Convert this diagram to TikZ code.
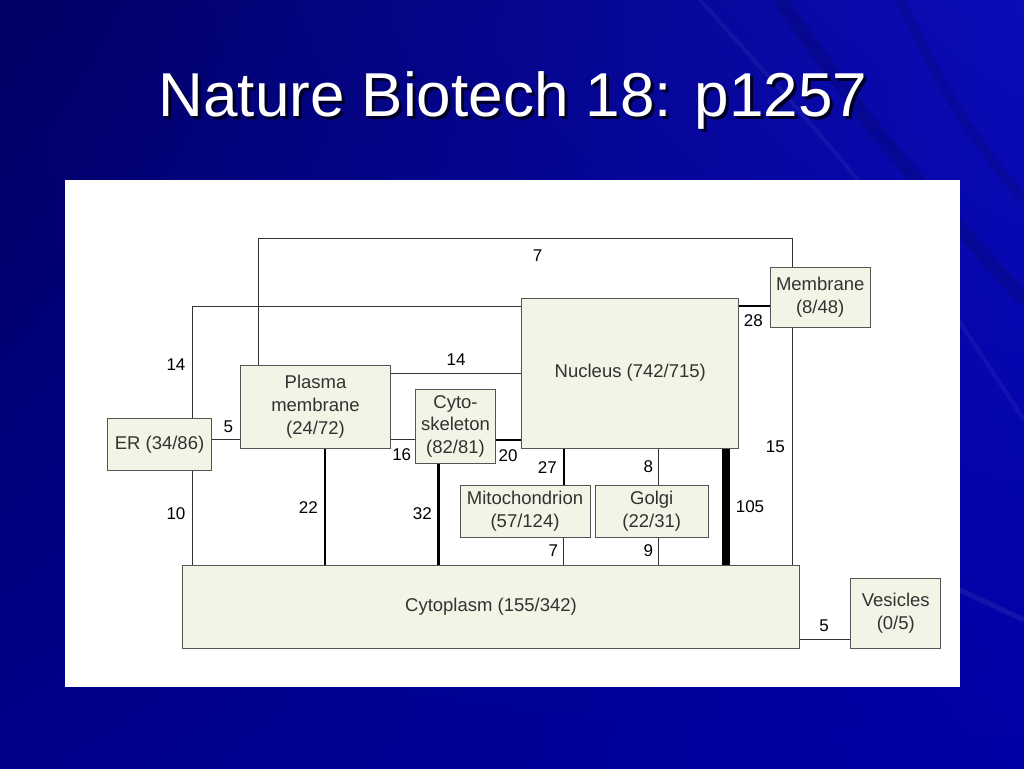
\documentclass[tikz,border=0pt]{standalone}
\usepackage{fontspec}
\setmainfont{Liberation Sans}
\usetikzlibrary{calc,positioning,shadings}

\definecolor{boxfill}{RGB}{244,244,230}
\definecolor{boxline}{RGB}{85,85,85}
\definecolor{txt}{RGB}{50,50,50}
\definecolor{bgdark}{RGB}{0,0,100}
\definecolor{bglight}{RGB}{12,12,184}
\definecolor{bgbot}{RGB}{0,0,138}
\definecolor{bgbotr}{RGB}{0,0,164}

\begin{document}
\begin{tikzpicture}[x=1pt,y=-1pt,
    comp/.style={draw=boxline,fill=boxfill,line width=1pt,align=center,text=txt,inner sep=0pt,font=\fontsize{18.5}{22.8}\selectfont},
    num/.style={text=black,inner sep=0pt,font=\fontsize{17}{20}\selectfont},
    link/.style={draw=txt,line width=1pt}]
              \useasboundingbox (0,0) rectangle (1024,768);
              \shade[upper left=bgdark,upper right=bglight,lower left=bgbot,lower right=bgbotr] (0,0) rectangle (1024,768);
              % streaks
              \draw[black,opacity=.12,line width=14pt] (780,0) .. controls (880,140) .. (1024,300);
              \draw[black,opacity=.10,line width=10pt] (900,0) .. controls (960,120) .. (1024,200);
              \draw[white,opacity=.05,line width=4pt] (700,0) .. controls (880,200) .. (1024,420);
              \draw[white,opacity=.07,line width=5pt] (960,590) -- (1024,620);
              \node[anchor=base,text=black!85!blue,font=\fontsize{62}{62}\selectfont] at (516,119) {Nature Biotech 18: p1257};
              \node[anchor=base,text=white,font=\fontsize{62}{62}\selectfont] (title) at (513,116) {Nature Biotech 18: p1257};
              \fill[white] (65,180) rectangle (960,687);

              \node[comp,minimum width=104.4pt,minimum height=52.4pt] (er) at (159.5,444.5) {ER (34/86)};
              \node[comp,minimum width=150.4pt,minimum height=83pt] (plasma) at (315.5,406.8) {Plasma\\membrane\\(24/72)};
              \node[comp,minimum width=80.4pt,minimum height=74pt] (cyto) at (455.5,426.3) {Cyto-\\skeleton\\(82/81)};
              \node[comp,minimum width=216.7pt,minimum height=150.3pt] (nucleus) at (630.3,373.2) {Nucleus (742/715)};
              \node[comp,minimum width=100.3pt,minimum height=59.6pt] (membrane) at (820.2,297.5) {Membrane\\(8/48)};
              \node[comp,minimum width=130pt,minimum height=52.3pt] (mito) at (525,511.2) {Mitochondrion\\(57/124)};
              \node[comp,minimum width=113.3pt,minimum height=52.3pt] (golgi) at (651.7,511.2) {Golgi\\(22/31)};
              \node[comp,minimum width=616.6pt,minimum height=82.6pt] (cytoplasm) at (491,607) {Cytoplasm (155/342)};
              \node[comp,minimum width=90.3pt,minimum height=70pt] (vesicles) at (895.8,613.3) {Vesicles\\(0/5)};

              \draw[link] ([xshift=-57.5pt]plasma.north) |- ([xshift=-28.2pt,yshift=28.7pt]membrane.north) -- ([xshift=-28.2pt]membrane.north);
              \draw[link] ([xshift=-28.2pt]membrane.south) -- ([xshift=-28.2pt]membrane.south |- cytoplasm.north);
              \draw[link] ([xshift=32.5pt]er.north) |- ([yshift=-9pt]nucleus.north west);
              \draw[link] ([xshift=32.5pt]er.south) -- ([xshift=32.5pt]er.south |- cytoplasm.north);
              \draw[link] ([yshift=5.2pt]er.east) -- ([yshift=5.2pt]er.east -| plasma.west);
              \draw[link] ([yshift=33.5pt]plasma.east) -- ([yshift=33.5pt]plasma.east -| nucleus.west);
              \draw[link] ([yshift=-32.5pt]plasma.east) -- ([yshift=-32.5pt]plasma.east -| cyto.west);
              \draw[link,draw=black,line width=2pt] ([yshift=-13.7pt]cyto.east) -- ([yshift=-13.7pt]cyto.east -| nucleus.west);
              \draw[link,draw=black,line width=2.5pt] ([xshift=9.5pt]plasma.south) -- ([xshift=9.5pt]plasma.south |- cytoplasm.north);
              \draw[link,draw=black,line width=3pt] ([xshift=-17.2pt]cyto.south) -- ([xshift=-17.2pt]cyto.south |- cytoplasm.north);
              \draw[link,draw=black,line width=2pt] ([xshift=-66.3pt]nucleus.south) -- ([xshift=-66.3pt]nucleus.south |- mito.north);
              \draw[link] ([xshift=27.7pt]nucleus.south) -- ([xshift=27.7pt]nucleus.south |- golgi.north);
              \draw[link,draw=black,line width=8pt] ([xshift=95.4pt]nucleus.south) -- ([xshift=95.4pt]nucleus.south |- cytoplasm.north);
              \draw[link] ([xshift=38.3pt]mito.south) -- ([xshift=38.3pt]mito.south |- cytoplasm.north);
              \draw[link] ([xshift=6.6pt]golgi.south) -- ([xshift=6.6pt]golgi.south |- cytoplasm.north);
              \draw[link,draw=black,line width=2pt] ([yshift=-8pt]nucleus.north east) -- ([yshift=-8pt]nucleus.north east -| membrane.west);
              \draw[link] ([yshift=9pt]cytoplasm.south east) -- ([yshift=9pt]cytoplasm.south east -| vesicles.west);

              \node[num] at (537.7,256) {7};
              \node[num] at (176,364.3) {14};
              \node[num] at (456,359.3) {14};
              \node[num] at (228.3,426.7) {5};
              \node[num] at (401.7,455) {16};
              \node[num] at (508,455.5) {20};
              \node[num] at (753.3,320.7) {28};
              \node[num] at (775.3,446.7) {15};
              \node[num] at (547.3,467.3) {27};
              \node[num] at (648.3,466.7) {8};
              \node[num] at (176,513.3) {10};
              \node[num] at (308.3,507.7) {22};
              \node[num] at (422.3,514) {32};
              \node[num] at (553.3,551) {7};
              \node[num] at (648.3,551) {9};
              \node[num] at (750,506.7) {105};
              \node[num] at (824,626) {5};
            \end{tikzpicture}
\end{document}
